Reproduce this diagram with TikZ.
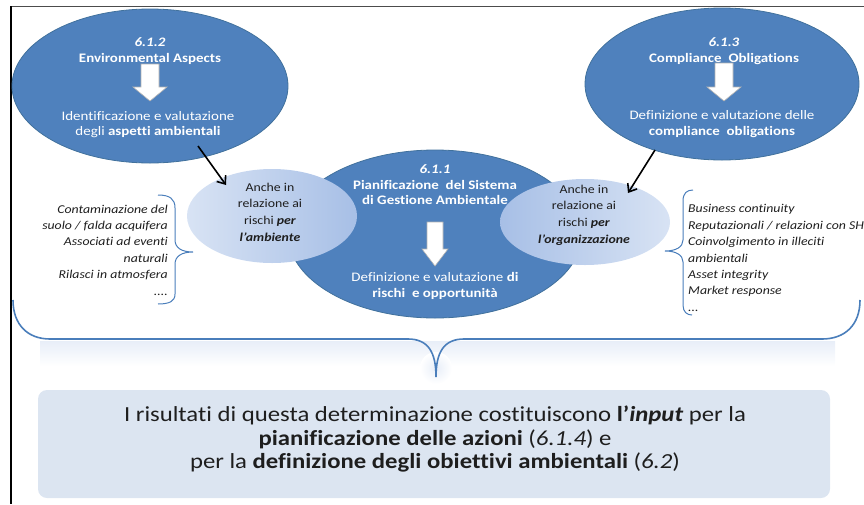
\documentclass[tikz,border=0pt]{standalone}
\usepackage{fontspec}
\setmainfont[FakeStretch=1.15,Ligatures={NoCommon}]{Carlito}
\usetikzlibrary{shapes.geometric,arrows.meta}
\definecolor{ellblue}{HTML}{4F81BD}
\definecolor{ellborder}{HTML}{41719C}
\definecolor{lightA}{HTML}{D8E3F4}
\definecolor{lightB}{HTML}{A7BFE6}
\definecolor{bracec}{HTML}{4A7EBB}
\definecolor{txtdark}{HTML}{1E1E1E}
\definecolor{boxfill}{HTML}{DCE5F1}
\definecolor{glow}{HTML}{E8EEF8}
\begin{document}
\begin{tikzpicture}[x=1pt,y=-1pt,
  bigell/.style={ellipse, draw=ellborder, line width=0.8pt, fill=ellblue, inner sep=0},
  smallell/.style={ellipse, draw=none, inner sep=0},
  wtxt/.style={text=white, align=center, inner sep=0, font=\fontsize{13}{15.6}\selectfont},
  dtxt/.style={text=txtdark, align=center, inner sep=0, font=\fontsize{12}{16.6}\selectfont},
  listtxt/.style={text=txtdark, inner sep=0, font=\fontsize{12}{16.4}\selectfont\itshape},
  blockarrow/.style={fill=white, draw=gray!60, line width=0.6pt},
  blkarrow/.style={draw=black, line width=1.6pt, -{Straight Barb[length=7pt,width=11pt,line width=1.6pt]}},
  bracepath/.style={draw=bracec, line width=1pt},
  bigbrace/.style={draw=bracec, line width=1.6pt}]
\useasboundingbox (0,0) rectangle (864,504);

% frame
\draw[gray!60!black, line width=1pt] (11,6) -- (864,6);
\draw[black, line width=1.4pt] (11,6) -- (11,504);

% big ellipses
\node[bigell, minimum width=276pt, minimum height=154pt] (L) at (150,86) {};
\node[bigell, minimum width=274pt, minimum height=152pt] (R) at (722,84) {};
\node[bigell, minimum width=294pt, minimum height=168pt] (C) at (435,234) {};

% small ellipses
\node[smallell, left color=lightA, right color=lightB, minimum width=170pt, minimum height=94pt] (SL) at (272,216) {};
\node[smallell, left color=lightB, right color=lightA, minimum width=170pt, minimum height=86pt] (SR) at (585,222) {};

% texts in big ellipses
\node[wtxt] (Lh) at (150,51) {\textbf{\textit{6.1.2}}\\\textbf{Environmental Aspects}};
\node[wtxt] (Lb) at (148,124.5) {Identificazione e valutazione\\degli \textbf{aspetti ambientali}};
\node[wtxt] (Rh) at (724,51) {\textbf{\textit{6.1.3}}\\\textbf{Compliance\ \ Obligations}};
\node[wtxt] (Rb) at (722,124) {Definizione e valutazione delle\\\textbf{compliance\ \ obligations}};
\node[wtxt] (Ch) at (435,185) {\textbf{\textit{6.1.1}}\\\textbf{Pianificazione\ \ del Sistema}\\\textbf{di Gestione Ambientale}};
\node[wtxt] (Cb) at (435,286) {Definizione e valutazione \textbf{di}\\\textbf{rischi\ \ e opportunità}};

% white block arrows
\draw[blockarrow] (141,64) -- (159,64) -- (159,87) -- (167,87) -- (150,101) -- (133,87) -- (141,87) -- cycle;
\draw[blockarrow] (715,63) -- (733,63) -- (733,87) -- (741,87) -- (724,101) -- (707,87) -- (715,87) -- cycle;
\draw[blockarrow] (427,222) -- (443,222) -- (443,249) -- (448,249) -- (435,266) -- (422,249) -- (427,249) -- cycle;

% small ellipse texts
\node[dtxt] (SLt) at (270,212) {Anche in\\relazione ai\\rischi \textbf{\textit{per}}\\\textbf{\textit{l’ambiente}}};
\node[dtxt] (SRt) at (584,215) {Anche in\\relazione ai\\rischi \textbf{\textit{per}}\\\textbf{\textit{l’organizzazione}}};

% black connectors
\coordinate (a1s) at (198,146);
\coordinate (a1e) at (226,185);
\coordinate (a2s) at (655,150);
\coordinate (a2e) at (628,193);
\draw[blkarrow] (a1s) -- (a1e);
\draw[blkarrow] (a2s) -- (a2e);

% lists
\node[listtxt, align=right, anchor=east] (LL) at (168,250) {Contaminazione del\\suolo / falda acquifera\\Associati ad eventi\\naturali\\Rilasci in atmosfera\\....};
\node[listtxt, align=left, anchor=west] (RL) at (688,258) {Business continuity\\Reputazionali / relazioni con SH\\Coinvolgimento in illeciti\\ambientali\\Asset integrity\\Market response\\...};

% small braces
\draw[bracepath] (158,195) .. controls (170,195) and (175,199) .. (175,208) -- (175,240) .. controls (175,248) and (182,252) .. (193,252)
  .. controls (182,252) and (175,256) .. (175,264) -- (175,294) .. controls (175,301) and (170,304) .. (158,304);
\draw[bracepath] (693,190) .. controls (687,190) and (683,193) .. (683,201) -- (683,240) .. controls (683,247) and (676,251) .. (665,251)
  .. controls (676,251) and (683,255) .. (683,262) -- (683,305) .. controls (683,312) and (687,315) .. (692,315);

% big brace glow
\shade[top color=glow, bottom color=white] (40,341) rectangle (835,366);
\shade[inner color=glow, outer color=white] (436,368) circle (16);
% big brace
\draw[bigbrace] (13,300) .. controls (13,325) and (28,339) .. (50,339) -- (408,339) .. controls (428,339) and (436,352) .. (436,377)
  .. controls (436,352) and (444,339) .. (464,339) -- (822,339) .. controls (845,339) and (860,325) .. (860,300);

% bottom box
\node[draw=none, fill=boxfill, rounded corners=9pt, minimum width=792pt, minimum height=108pt, inner sep=0] (B) at (434,444) {};
\node[text=txtdark, align=center, inner sep=0, font=\fontsize{21.5}{23.6}\selectfont] (Bt) at (435,439)
 {I risultati di questa determinazione costituiscono \textbf{l’\textit{input}} per la\\
  \textbf{pianificazione delle azioni} (\textit{6.1.4}) e\\
  per la \textbf{definizione degli obiettivi ambientali} (\textit{6.2})};
\end{tikzpicture}
\end{document}
